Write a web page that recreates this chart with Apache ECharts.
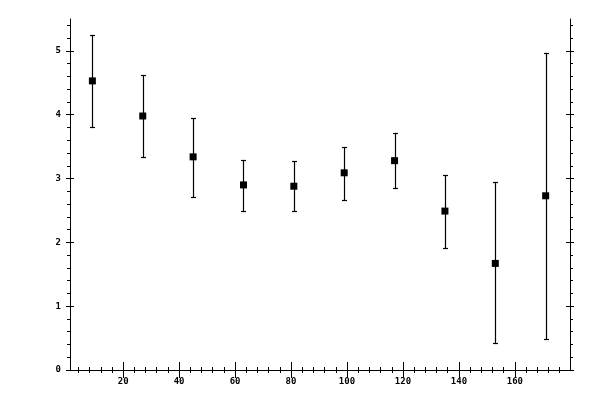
<!DOCTYPE html>
<html>
<head>
<meta charset="utf-8">
<script src="https://cdn.jsdelivr.net/npm/echarts@6/dist/echarts.min.js"></script>
<style>html,body{margin:0;padding:0;background:#fff;}#c{width:600px;height:400px;}</style>
</head>
<body>
<div id="c"></div>
<script>
var xValues = [9, 27, 45, 63, 81, 99, 117, 135, 153, 171];
var yValues = [4.53, 3.98, 3.34, 2.90, 2.88, 3.09, 3.28, 2.49, 1.67, 2.73];
var yLower  = [3.81, 3.34, 2.71, 2.49, 2.49, 2.66, 2.85, 1.91, 0.42, 0.48];
var yUpper  = [5.25, 4.63, 3.95, 3.29, 3.28, 3.50, 3.72, 3.06, 2.95, 4.97];
var xMajorTicks = [20, 40, 60, 80, 100, 120, 140, 160];
var yMajorTicks = [0, 1, 2, 3, 4, 5];
var xRange = [1, 179.7];
var yRange = [0, 5.5];

var xAllTicks = [];
for (var i = 1; i * 4 < xRange[1]; i++) xAllTicks.push(i * 4);
var yAllTicks = [];
for (var j = 0; j * 0.2 < yRange[1]; j++) yAllTicks.push(Math.round(j * 2) / 10);

var font = {fontFamily: 'DejaVu Sans Mono', fontSize: 9, color: '#000', fontWeight: 'bold'};
var lineStyle = {color: '#000', width: 1};

function mainAxis(pos, range, allTicks, majorTicks, showLabel, margin) {
  return {
    type: 'value', position: pos, min: range[0], max: range[1],
    splitLine: {show: false},
    axisLine: {show: true, lineStyle: lineStyle},
    axisTick: {show: true, inside: false, length: 3, customValues: allTicks, lineStyle: lineStyle},
    axisLabel: Object.assign({show: showLabel, customValues: majorTicks, margin: margin}, font)
  };
}
function crossAxis(pos, range, majorTicks) {
  return {
    type: 'value', position: pos, offset: 4, min: range[0], max: range[1],
    splitLine: {show: false},
    axisLine: {show: false},
    axisTick: {show: true, inside: true, length: 8, customValues: majorTicks, lineStyle: lineStyle},
    axisLabel: {show: false}
  };
}

var points = xValues.map(function (x, k) { return [x, yValues[k]]; });
var errs = xValues.map(function (x, k) { return [x, yLower[k], yUpper[k]]; });

var option = {
  animation: false,
  backgroundColor: '#fff',
  grid: {left: 70, right: 30, top: 19, bottom: 30},
  xAxis: [
    mainAxis('bottom', xRange, xAllTicks, xMajorTicks, true, 7),
    crossAxis('bottom', xRange, xMajorTicks),
    mainAxis('top', xRange, xAllTicks, xMajorTicks, false, 7),
    crossAxis('top', xRange, xMajorTicks)
  ],
  yAxis: [
    mainAxis('left', yRange, yAllTicks, yMajorTicks, true, 9),
    crossAxis('left', yRange, yMajorTicks),
    mainAxis('right', yRange, yAllTicks, yMajorTicks, false, 9),
    crossAxis('right', yRange, yMajorTicks)
  ],
  series: [
    {
      type: 'custom',
      xAxisIndex: 0, yAxisIndex: 0,
      data: errs,
      renderItem: function (params, api) {
        var x = api.value(0);
        var lo = api.coord([x, api.value(1)]);
        var hi = api.coord([x, api.value(2)]);
        var px = Math.round(lo[0]) + 0.5;
        var ylo = Math.round(lo[1]) + 0.5;
        var yhi = Math.round(hi[1]) + 0.5;
        var w = 2.5;
        var st = {stroke: '#000', lineWidth: 1.2};
        return {
          type: 'group',
          children: [
            {type: 'line', shape: {x1: px, y1: ylo, x2: px, y2: yhi}, style: st},
            {type: 'line', shape: {x1: px - w, y1: ylo, x2: px + w, y2: ylo}, style: st},
            {type: 'line', shape: {x1: px - w, y1: yhi, x2: px + w, y2: yhi}, style: st}
          ]
        };
      },
      z: 2
    },
    {
      type: 'scatter',
      xAxisIndex: 0, yAxisIndex: 0,
      data: points,
      symbol: 'rect',
      symbolSize: 7,
      itemStyle: {color: '#000', opacity: 1},
      z: 3
    }
  ]
};
var chart = echarts.init(document.getElementById('c'), null, {renderer: 'canvas'});
chart.setOption(option);
</script>
</body>
</html>
